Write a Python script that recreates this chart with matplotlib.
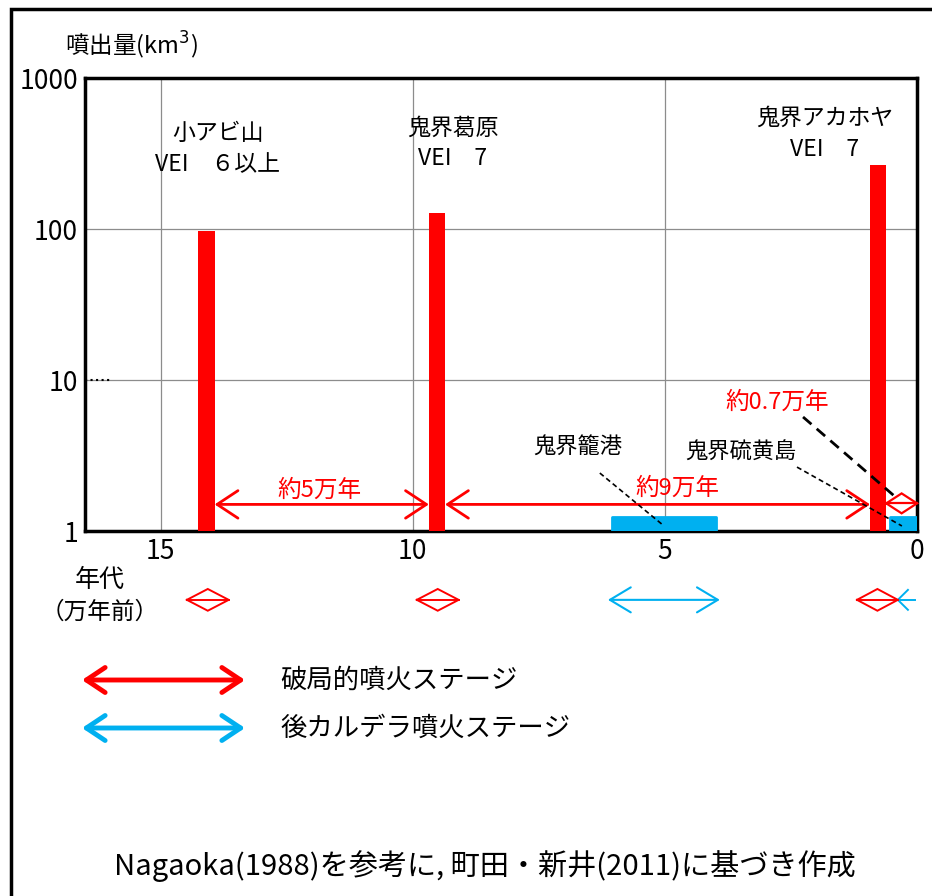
import numpy as np
import matplotlib.pyplot as plt
from matplotlib.patches import Rectangle, FancyArrowPatch

plt.rcParams['font.family'] = ['Noto Sans CJK JP', 'DejaVu Sans']

# 噴火データ（万年前, km3）
nama = ['小アビ山', '鬼界葛原', '鬼界アカホヤ']
vei = ['VEI　６以上', 'VEI　7', 'VEI　7']
umur = [14.09, 9.52, 0.77]
volume = [97, 128, 265]

# 後カルデラ噴火
nama_post = ['鬼界籠港', '鬼界硫黄島']
post_mulai = [6.05, 0.54]
post_akhir = [3.99, 0.0]
post_tinggi = [1.24, 1.24]

merah = '#FF0000'
biru = '#00B0F0'

fig = plt.figure(figsize=(9.32, 8.96), dpi=100)
ax = fig.add_axes([85/932, 1-531/896, (917-85)/932, (531-78)/896])

ax.set_yscale('log')
ax.set_xlim(16.5, 0)
ax.set_ylim(1, 1000)
ax.set_xticks([15, 10, 5, 0])
ax.set_xticklabels(['15', '10', '5', '0'])
ax.set_yticks([1, 10, 100, 1000])
ax.set_yticklabels(['1', '10', '100', '1000'])
ax.minorticks_off()
ax.tick_params(length=0, labelsize=19, pad=5)

# grid
for x in [15, 10, 5]:
    ax.axvline(x, color='#8c8c8c', lw=0.9, zorder=0)
for y in [10, 100]:
    ax.axhline(y, color='#8c8c8c', lw=0.9, zorder=0)
ax.plot([16.5, 16.0], [10, 10], ls=':', color='black', lw=1.5, zorder=1)

for s in ax.spines.values():
    s.set_linewidth(2.5)

# batang merah
lebar = 0.32
ax.bar(umur, np.array(volume) - 1, bottom=1, width=lebar, color=merah, zorder=3)

# batang biru
for a, b, h in zip(post_mulai, post_akhir, post_tinggi):
    ax.bar((a + b) / 2, h - 1, bottom=1, width=a - b, color=biru,
           edgecolor=biru, linewidth=2, joinstyle='round', zorder=3)

# label
fs = 16.5
ax.text(13.87, 432, nama[0], ha='center', va='center', fontsize=fs)
ax.text(13.87, 265, vei[0], ha='center', va='center', fontsize=fs)
ax.text(9.21, 466, nama[1], ha='center', va='center', fontsize=fs)
ax.text(9.21, 295, vei[1], ha='center', va='center', fontsize=fs)
ax.text(1.83, 543, nama[2], ha='center', va='center', fontsize=fs)
ax.text(1.83, 334, vei[2], ha='center', va='center', fontsize=fs)

ax.text(6.73, 3.65, nama_post[0], ha='center', va='center', fontsize=16)
ax.text(3.49, 3.33, nama_post[1], ha='center', va='center', fontsize=16)

tr = ax.get_xaxis_transform()

# panah interval
def panah(x1, x2, y, gaya, warna, lw=2, skala=30, trans=None):
    ax.annotate('', xy=(x2, y), xytext=(x1, y),
                xycoords=trans or 'data', textcoords=trans or 'data',
                arrowprops=dict(arrowstyle=gaya, color=warna, lw=lw,
                                mutation_scale=skala, shrinkA=0, shrinkB=0),
                annotation_clip=False)

# panah berbentuk belah ketupat (<>)
def berlian(x1, x2, y, h, warna, lw=1.4):
    xm = (x1 + x2) / 2
    ax.plot([x1, x2], [y, y], color=warna, lw=lw, transform=tr, clip_on=False, zorder=5)
    ax.plot([x1, xm, x2, xm, x1], [y, y + h, y, y - h, y], color=warna, lw=lw,
            transform=tr, clip_on=False, zorder=5, solid_joinstyle='miter')

panah(umur[0] - lebar / 2, umur[1] + lebar / 2, 1.5, '<->,head_length=0.5,head_width=0.33', merah)
panah(umur[1] - lebar / 2, umur[2] + lebar / 2, 1.5, '<->,head_length=0.5,head_width=0.33', merah)
berlian(umur[2] - lebar / 2, 0.0, 0.061, 0.022, merah, lw=1.6)
ax.text(11.85, 1.87, '約5万年', color=merah, ha='center', va='center', fontsize=17)
ax.text(4.76, 1.93, '約9万年', color=merah, ha='center', va='center', fontsize=17)
ax.text(2.78, 7.15, '約0.7万年', color=merah, ha='center', va='center', fontsize=17)

# garis penunjuk
ax.plot([6.29, 5.04], [2.42, 1.096], ls='--', color='black', lw=1.2, dashes=(3, 2), zorder=4)
ax.plot([2.38, 0.30], [2.65, 1.08], ls='--', color='black', lw=1.2, dashes=(3, 2), zorder=4)
ax.plot([2.26, 0.40], [5.69, 1.65], ls='--', color='black', lw=2, dashes=(4, 2.5), zorder=4)

# baris bawah (tahap)
yb = -0.152
berlian(14.48, 13.65, yb, 0.024, merah)
berlian(9.92, 9.09, yb, 0.024, merah)
panah(6.13, 3.91, yb, '<->,head_length=0.5,head_width=0.3', biru, lw=1.5, trans=tr)
berlian(1.19, 0.38, yb, 0.024, merah)
ax.plot([0.38, 0.04], [yb, yb], color=biru, lw=1.4, transform=tr, clip_on=False)
ax.plot([0.18, 0.38, 0.18], [yb + 0.022, yb, yb - 0.022], color=biru, lw=1.4,
        transform=tr, clip_on=False)

ax.text(16.21, -0.108, '年代', transform=tr, ha='center', va='center', fontsize=18)
ax.text(16.21, -0.179, '（万年前）', transform=tr, ha='center', va='center', fontsize=17)

# judul sumbu y
fig.text(65/932, 1-45/896, '噴出量(km$^3$)', ha='left', va='center', fontsize=17)

# legenda
def panah_fig(x1, x2, y, warna):
    fig.add_artist(FancyArrowPatch(
        (x1/932, 1-y/896), (x2/932, 1-y/896), transform=fig.transFigure,
        arrowstyle='<->,head_length=0.45,head_width=0.3', mutation_scale=30,
        color=warna, lw=3.5, shrinkA=0, shrinkB=0))

panah_fig(82, 245, 680, merah)
panah_fig(82, 245, 728, biru)
fig.text(280/932, 1-680/896, '破局的噴火ステージ', ha='left', va='center', fontsize=19)
fig.text(280/932, 1-728/896, '後カルデラ噴火ステージ', ha='left', va='center', fontsize=19)

fig.text(485/932, 1-866/896, 'Nagaoka(1988)を参考に, 町田・新井(2011)に基づき作成',
         ha='center', va='center', fontsize=21)

# bingkai luar
fig.add_artist(Rectangle((11/932, -0.1), 1.2, 1.1 - 9/896, transform=fig.transFigure,
                         fill=False, lw=2.5, ec='black'))

plt.savefig('out.png', dpi=100)
